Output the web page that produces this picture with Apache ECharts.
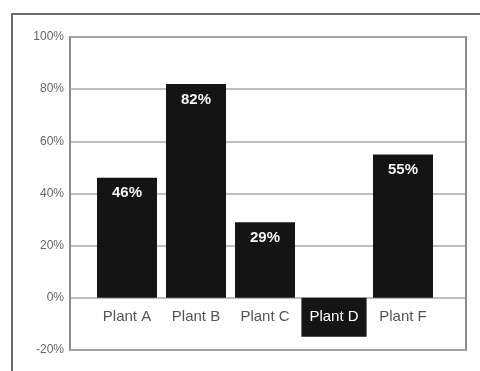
<!DOCTYPE html>
<html>
<head>
<meta charset="utf-8">
<script src="https://cdn.jsdelivr.net/npm/echarts@6/dist/echarts.min.js"></script>
<style>
  html, body { margin: 0; padding: 0; background: #fff; }
  #chart { width: 480px; height: 371px; }
</style>
</head>
<body>
<div id="chart"></div>
<script>
// Share of target reached per plant (Plant D reported no figure)
const categories = ['Plant A', 'Plant B', 'Plant C', 'Plant D', 'Plant F'];
const values = [46, 82, 29, null, 55];
const yMin = -20;
const yMax = 100;
const yStep = 20;

const FONT = '"Liberation Sans", Arial, sans-serif';
const NARROW = '"Liberation Sans Narrow", "Liberation Sans", Arial, sans-serif';

const PLOT_TOP = 37;
const PLOT_HEIGHT = 313;
const LABEL_PAD = 12;
// lift the category labels from the bottom edge up to the 0% line
const zeroLift = (0 - yMin) / (yMax - yMin) * PLOT_HEIGHT;

const chart = echarts.init(document.getElementById('chart'), null, { renderer: 'canvas' });

const missing = new Set(categories.filter((c, i) => values[i] === null));

chart.setOption({
  backgroundColor: '#ffffff',
  animation: false,
  graphic: [{
    type: 'rect',
    shape: { x: 12, y: 14, width: 500, height: 420 },
    style: { fill: 'none', stroke: '#6a6a6a', lineWidth: 2 },
    z: 0
  }],
  grid: [
    // framed plot area with the percentage grid
    { left: 70, top: PLOT_TOP, width: 396, height: PLOT_HEIGHT, show: true, outerBoundsMode: 'none',
      borderColor: '#8a8a8a', borderWidth: 2, backgroundColor: 'transparent' },
    // bar layout area
    { left: 92.5, top: PLOT_TOP, width: 345, height: PLOT_HEIGHT, outerBoundsMode: 'none' }
  ],
  xAxis: [
    { gridIndex: 0, type: 'value', show: false, min: 0, max: 1 },
    {
      gridIndex: 1, type: 'category', data: categories, position: 'bottom',
      offset: -zeroLift,
      axisLine: { show: false, onZero: false }, axisTick: { show: false },
      axisLabel: {
        margin: LABEL_PAD,
        interval: 0,
        formatter: v => missing.has(v) ? '{d|' + v + '}' : '{n|' + v + '}',
        rich: {
          n: { fontFamily: NARROW, fontSize: 15, color: '#555', padding: [LABEL_PAD, 8, LABEL_PAD, 8], lineHeight: 15 },
          d: { fontFamily: NARROW, fontSize: 15, color: '#fff', backgroundColor: '#151515',
               padding: [LABEL_PAD, 8, LABEL_PAD, 8], lineHeight: 15 }
        }
      }
    }
  ],
  yAxis: [
    {
      gridIndex: 0, type: 'value', min: yMin, max: yMax, interval: yStep,
      axisLine: { show: false }, axisTick: { show: false },
      axisLabel: { formatter: '{value}%', fontFamily: NARROW, fontSize: 12, color: '#666', margin: 6 },
      splitLine: { show: true, lineStyle: { color: '#a8a8a8', width: 1.5 } }
    },
    {
      gridIndex: 1, type: 'value', min: yMin, max: yMax, interval: yStep, show: false
    }
  ],
  series: [{
    type: 'bar',
    xAxisIndex: 1,
    yAxisIndex: 1,
    data: values,
    barWidth: 60,
    itemStyle: { color: '#141414' },
    label: {
      show: true,
      position: 'insideTop',
      distance: 8,
      formatter: p => p.value + '%',
      fontFamily: FONT,
      fontWeight: 'bold',
      fontSize: 15,
      color: '#f4f4f4'
    }
  }]
});
</script>
</body>
</html>
